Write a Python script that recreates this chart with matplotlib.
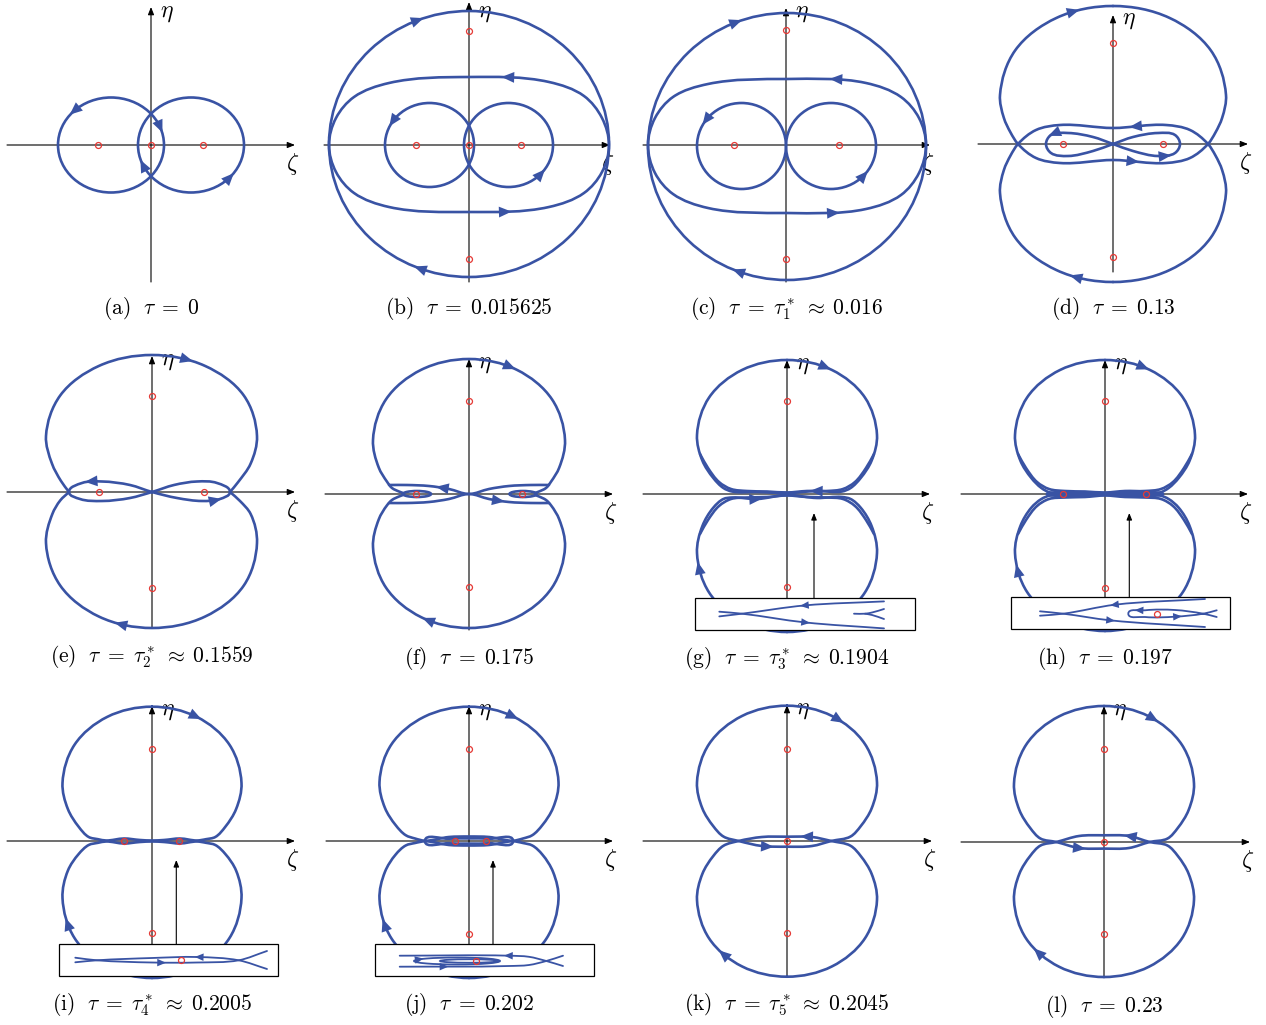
import numpy as np
import matplotlib
matplotlib.use("Agg")
import matplotlib.pyplot as plt
from matplotlib.path import Path
from matplotlib.patches import PathPatch, Ellipse, Rectangle

plt.rcParams['mathtext.fontset'] = 'cm'

# --- captions ---
captions = [
    r'$\mathrm{(a)}\ \ \tau \;=\; 0$',
    r'$\mathrm{(b)}\ \ \tau \;=\; 0.015625$',
    r'$\mathrm{(c)}\ \ \tau \;=\; \tau_1^* \;\approx\; 0.016$',
    r'$\mathrm{(d)}\ \ \tau \;=\; 0.13$',
    r'$\mathrm{(e)}\ \ \tau \;=\; \tau_2^* \;\approx\; 0.1559$',
    r'$\mathrm{(f)}\ \ \tau \;=\; 0.175$',
    r'$\mathrm{(g)}\ \ \tau \;=\; \tau_3^* \;\approx\; 0.1904$',
    r'$\mathrm{(h)}\ \ \tau \;=\; 0.197$',
    r'$\mathrm{(i)}\ \ \tau \;=\; \tau_4^* \;\approx\; 0.2005$',
    r'$\mathrm{(j)}\ \ \tau \;=\; 0.202$',
    r'$\mathrm{(k)}\ \ \tau \;=\; \tau_5^* \;\approx\; 0.2045$',
    r'$\mathrm{(l)}\ \ \tau \;=\; 0.23$',
]

# --- curve data (zeta, eta) ---
# ovals: (centre_x, centre_y, width, height); loops: closed; strokes: open
# arrows: (x, y, dir_x, dir_y) -- placed on the nearest drawn curve
a_dots = [(-53, 0), (0, 0), (52, 0)]
a_ovals = [(-40, 0, 106, 95), (40, 0, 106, 95)]
a_arrows = [(-76, 32, -1, -0.9), (7, 17, 0.35, -1), (-8, -18, -0.35, 1), (81, -32, 1, 1)]

b_dots = [(0, 114), (0, -114), (-53, 0), (0, 0), (52, 0)]
b_ovals = [(0, 1, 280, 266), (-39.5, 0, 89, 84), (39.5, 0, 89, 84)]
b_loops = [[(-140, 0), (-133, 27), (-115, 48), (-80, 62), (0, 68), (80, 63), (115, 49), (133, 27),
            (140, 0), (133, -27), (115, -48), (80, -62), (0, -67), (-80, -62), (-115, -48), (-133, -27)]]
b_arrows = [(-50, 125, 1, 0.2), (-53, -122, -1, 0.25), (35, 66, -1, 0.03), (40, -64, 1, 0.05),
            (-75, 22, -0.7, -0.75), (74, -28, 0.6, 0.8)]

c_dots = [(0, 115), (0, -114), (-52, 0), (53, 0)]
c_ovals = [(1, -1.5, 278, 267), (-44.5, -1, 89, 86), (45, -1, 90, 86)]
c_loops = [[(-138, 0), (-131, 27), (-113, 48), (-78, 61), (1, 66), (80, 62), (115, 48), (133, 27),
            (140, 0), (133, -28), (115, -50), (80, -64), (1, -68), (-78, -63), (-113, -49), (-131, -28)]]
c_arrows = [(-46, 125, 1, 0.2), (-46, -128, -1, 0.25), (48, 65, -1, 0.05), (48, -66, 1, 0.08),
            (-79, 22, -0.6, -0.8), (78, -28, 0.6, 0.8)]

d_dots = [(0, 101), (0, -113), (-50, 0), (50, 0)]
d_loops = [
    [(0, 138), (56.5, 126.1), (97.9, 93.5), (113, 49), (109.1, 26), (102.4, 11.4), (95, 0),
     (77, -14), (53, -19), (0, -16), (-53, -19), (-77, -14), (-95, 0), (-102.4, 11.4),
     (-109.1, 26), (-113, 49), (-97.9, 93.5), (-56.5, 126.1)],
    [(0, -138), (56.5, -126.1), (97.9, -93.5), (113, -49), (109.1, -26), (102.4, -11.4), (95, 0),
     (77, 14), (53, 19), (0, 16), (-53, 19), (-77, 14), (-95, 0), (-102.4, -11.4), (-109.1, -26),
     (-113, -49), (-97.9, -93.5), (-56.5, -126.1)],
    [(0, 0), (20, -7), (45, -12), (62, -9), (67, 0), (62, 9), (45, 11), (20, 7), (0, 0),
     (-20, -7), (-45, -12), (-62, -9), (-67, 0), (-62, 9), (-45, 11), (-20, 7)],
]
d_arrows = [(-38, 132, 1, 0.15), (-38, -130, -1, 0.15), (22, 18, -1, -0.05), (22, -18, 1, 0.05),
            (-60, 10, -1, -0.05), (53, -11, 1, 0.1)]

e_dots = [(0, 96), (0, -96), (-53, 0), (52, 0)]
e_strokes = [
    [(-83, 0), (-91, 11), (-100, 28.3), (-106, 56), (-91.8, 96.5), (-53, 126.1), (0, 137),
     (53, 126.1), (91.8, 96.5), (105, 56), (98.6, 28.3), (85.8, 9.5), (78, 0)],
    [(-83, 0), (-91.8, -8.5), (-99.6, -21.9), (-106, -51), (-91.8, -93.5), (-53, -124.6),
     (0, -136), (53, -124.6), (91.8, -93.5), (105, -51), (98.6, -21.9), (88, -9), (78, 0)],
]
e_loops = [[(0, 0), (25, -6), (50, -9), (68, -7), (78, 0), (65, 9), (45, 10.5), (22, 7), (0, 0),
            (-22, -6), (-50, -9), (-72, -7), (-83, 0), (-70, 9), (-50, 10.5), (-22, 7)]]
e_arrows = [(36, 131, 1, -0.15), (-34, -133, -1, 0.15), (-62, 9, -1, -0.25), (65, -8, 1, 0.25)]

f_dots = [(0, 93), (0, -93), (-53, 0), (53, 0)]
f_ovals = [(-52, 0, 28, 6), (54, 0, 27, 6)]
f_strokes = [
    [(-66, 1), (-70, 2.5), (-77, 6), (-82, 12.3), (-90.2, 26.3), (-96, 54), (-83.1, 94.5),
     (-48, 124.1), (0, 135), (48, 124.1), (83.1, 94.5), (96, 54), (90.2, 26.3), (82, 12.3),
     (77, 6), (70, 2.5), (66, 1)],
    [(-66, -1), (-70, -2.5), (-77, -6), (-82, -11.3), (-90.2, -25.3), (-96, -53), (-83.1, -93.5),
     (-48, -123.1), (0, -134), (48, -123.1), (83.1, -93.5), (96, -53), (90.2, -25.3), (82, -11.3),
     (77, -6), (70, -2.5), (66, -1)],
    [(-80, 9), (-62, 9), (-40, 8), (-20, 5), (0, 0), (20, 5), (40, 8), (62, 9), (80, 9)],
    [(-80, -9), (-62, -9), (-40, -8), (-20, -5), (0, 0), (20, -5), (40, -8), (62, -9), (80, -9)],
]
f_arrows = [(41, 128, 1, -0.3), (-43, -127, -1, 0.3), (-28, 8, -1, 0.2), (30, -9, 1, -0.2)]

g_dots = [(0, 93), (0, -93)]
g_loops = [
    [(0, 134), (45, 124), (77.9, 96.5), (90, 59), (84.6, 33.3), (73.7, 16), (63.6, 6), (55, 2.5),
     (30, 3), (0, 1), (-30, 2), (-55, 2.5), (-63.6, 6), (-73.7, 16), (-84.6, 33.3), (-90, 59),
     (-77.9, 96.5), (-45, 124)],
    [(0, -138), (45, -127.4), (77.9, -98.5), (90, -59), (84.6, -32), (73.7, -13.7), (63.6, -5),
     (55, -3), (30, -4), (0, -1), (-30, -5), (-55, -3.5), (-63.6, -5), (-73.7, -13.7), (-84.6, -32),
     (-90, -59), (-77.9, -98.5), (-45, -127.4)],
]
g_strokes = [
    [(-87, 40), (-79, 26), (-68, 12), (-56, 5), (-40, 3), (-20, 2.5), (0, 1.5), (20, 3), (40, 3),
     (56, 5), (68, 12), (79, 26), (87, 40)],
    [(-87, -40), (-79, -26), (-68, -12), (-56, -5), (-40, -3.5), (-20, -3), (0, -1.5), (20, -3),
     (40, -3.5), (56, -5), (68, -12), (79, -26), (87, -40)],
]
g_arrows = [(38, 126, 1, -0.2), (-87, -73, -0.12, 1), (28, 5, -1, 0), (-30, -5, 1, 0)]
g_inset_strokes = [
    [(-67.7, -117.7), (-45, -119.7), (18, -128.4), (97, -134.4)],
    [(-67.7, -122.4), (-45, -119.7), (18, -111.4), (97, -107.4)],
    [(97, -115), (85, -118.5), (78, -119.7), (67, -119.7)],
    [(97, -125), (85, -121), (78, -119.7)],
]
g_inset_arrows = [(18, -111.4, -1, -0.05), (18, -128.4, 1, -0.08)]

h_dots = [(0, 92.7), (0, -94), (-41.7, 0), (41, 0)]
h_ovals = [(-41, 0, 34, 4), (41, 0, 34, 4)]
h_loops = [
    [(0, 134), (45, 124), (77.9, 96.5), (90, 59), (84.6, 33.3), (73.7, 16), (63.6, 6), (55, 1.5),
     (30, 1), (0, 0.5), (-30, 1), (-55, 1.5), (-63.6, 6), (-73.7, 16), (-84.6, 33.3), (-90, 59),
     (-77.9, 96.5), (-45, 124)],
    [(0, -137), (45, -126.5), (77.9, -98), (90, -59), (84.6, -32), (73.7, -13.7), (63.6, -5),
     (55, -1.5), (30, -1), (0, -0.5), (-30, -1), (-55, -1.5), (-63.6, -5), (-73.7, -13.7),
     (-84.6, -32), (-90, -59), (-77.9, -98), (-45, -126.5)],
]
h_strokes = g_strokes
h_arrows = [(37.7, 126, 1, -0.2), (-86.7, -74, -0.12, 1)]
h_inset_strokes = [
    [(-65, -117.3), (-41.7, -119.7), (5, -126.3), (100, -133)],
    [(-65, -121.7), (-41.7, -119.7), (10, -110.7), (100, -105)],
    [(111.7, -123), (98.3, -119.7), (70, -116), (40, -116.3), (23.3, -119.7), (40, -123),
     (70, -122.7), (98.3, -119.7), (111.7, -116.3)],
]
h_inset_dots = [(51.7, -119.7)]
h_inset_arrows = [(10, -110.7, -1, -0.07), (5, -126.3, 1, -0.08), (35, -116.2, -1, 0),
                  (71.7, -122.5, 1, 0.05)]

i_dots = [(0, 92), (0, -92.3), (-27.7, 0), (27.3, 0)]
i_loops = [
    [(0, 134.3), (44.8, 124.1), (77.5, 96.2), (89.5, 58), (84.1, 31.9), (73.3, 14.2), (63.3, 4),
     (54, 1.8), (45, 0.5), (28, 2.5), (12, 1), (0, 0.5), (-12, 1), (-28, 2.5), (-46, 0.5),
     (-54, 1.8), (-63.3, 4), (-73.3, 14.2), (-84.1, 31.9), (-89.5, 58), (-77.5, 96.2),
     (-44.8, 124.1)],
    [(0, -137), (44.8, -126.3), (77.5, -97), (89.5, -57), (84.1, -29.6), (73.3, -13), (63.3, -4),
     (54, -1.8), (45, -0.5), (28, -2.5), (12, -1), (0, -0.5), (-12, -1), (-28, -2.5), (-46, -0.5),
     (-54, -1.8), (-63.3, -4), (-73.3, -13), (-84.1, -29.6), (-89.5, -57), (-77.5, -97),
     (-44.8, -126.3)],
]
i_arrows = [(45, 124.3, 1, -0.35), (-85, -80.7, -0.2, 1)]
i_inset_strokes = [
    [(-76.7, -116.7), (-55, -119.3), (0, -121.5), (45, -121.5), (86.7, -119.3), (115, -110)],
    [(-76.7, -121.3), (-55, -119.3), (0, -117), (45, -116), (86.7, -119.3), (115, -128)],
]
i_inset_dots = [(29.3, -119.3)]
i_inset_arrows = [(48, -116.3, -1, 0), (8, -121.6, 1, 0)]

j_dots = [(0, 92), (0, -93), (-14.3, 0), (17.3, 0)]
j_loops = [
    [(0, 134.3), (44.8, 124.2), (77.5, 96.7), (89.5, 59), (84.1, 33.2), (73.3, 15.8), (63.3, 5.8),
     (54, 2.5), (44, 0.3), (20, 4), (0, 4.5), (-20, 4), (-44, 0.3), (-54, 2.5), (-63.3, 5.8),
     (-73.3, 15.8), (-84.1, 33.2), (-89.5, 59), (-77.5, 96.7), (-44.8, 124.2)],
    [(0, -137), (44.8, -126.4), (77.5, -97.5), (89.5, -58), (84.1, -31), (73.3, -13.5),
     (63.3, -4.5), (54, -2), (44, -0.3), (20, -4), (0, -4.5), (-20, -4), (-44, -0.3), (-54, -2),
     (-63.3, -4.5), (-73.3, -13.5), (-84.1, -31), (-89.5, -58), (-77.5, -97.5), (-44.8, -126.4)],
    [(-44, 0), (-20, 2.3), (0, 2.6), (20, 2.3), (44, 0), (20, -2.3), (0, -2.6), (-20, -2.3)],
]
j_arrows = [(45.7, 124.3, 1, -0.35), (-84.3, -82.3, -0.2, 1)]
j_inset_strokes = [
    [(-69.3, -114.7), (40, -114.7), (60, -115.8), (77.3, -120), (94, -125)],
    [(-69.3, -125.7), (40, -125), (60, -124), (77.3, -120), (94, -114.7)],
]
j_inset_ovals = [(-12, -120, 86, 7), (0, -120, 58, 3.5)]
j_inset_dots = [(7.3, -120)]
j_inset_arrows = [(39, -114.7, -1, 0), (-27.7, -125.5, 1, 0), (-50, -120, 1, 0)]

k_dots = [(0, 92), (0, -92.3), (0, 0)]
k_loops = [
    [(0, 135.3), (45, 125), (77.9, 97), (90, 58.7), (84.6, 32.5), (73.7, 14.8), (63.6, 4.5),
     (44.3, 0), (25, -5), (0, -5.7), (-25, -5), (-48.3, 0), (-63.6, 4.5), (-73.7, 14.8),
     (-84.6, 32.5), (-90, 58.7), (-77.9, 97), (-45, 125)],
    [(0, -135.7), (45, -125.4), (77.9, -97.4), (90, -59), (84.6, -32.8), (73.7, -15), (63.6, -4.8),
     (44.3, 0), (25, 4), (0, 4.3), (-25, 4), (-48.3, 0), (-63.6, -4.8), (-73.7, -15),
     (-84.6, -32.8), (-90, -59), (-77.9, -97.4), (-45, -125.4)],
]
k_arrows = [(51.7, 119.3, 1, -0.6), (-63.3, -110.7, -1, 0.6), (18.3, 4.3, -1, 0), (-18.3, -4.7, 1, 0)]

l_dots = [(0, 92.7), (0, -91.6), (0, 0)]
l_loops = [
    [(0, 136), (45, 125.6), (77.9, 97.2), (90, 58.4), (84.6, 31.9), (73.7, 13.9), (63.6, 3.5),
     (45.7, 0), (25, -6), (0, -6.6), (-25, -6), (-47.6, 0), (-63.6, 3.5), (-73.7, 13.9),
     (-84.6, 31.9), (-90, 58.4), (-77.9, 97.2), (-45, 125.6)],
    [(0, -135), (45, -124.7), (77.9, -96.5), (90, -58), (84.6, -31.7), (73.7, -13.8), (63.6, -3.6),
     (45.7, 0), (25, 6), (0, 6.7), (-25, 6), (-47.6, 0), (-63.6, -3.6), (-73.7, -13.8),
     (-84.6, -31.7), (-90, -58), (-77.9, -96.5), (-45, -124.7)],
]
l_arrows = [(49, 123.4, 1, -0.55), (-66, -110, -1, 0.6), (25.7, 6, -1, 0), (-22.6, -5, 1, 0)]

BLUE = '#3953a4'
RED = '#e53935'
LW = 1.9


def unit(v):
    n = np.hypot(*v)
    return v / n if n > 0 else v


def smooth_path(points, closed):
    # smooth curve through the read points, drawn by matplotlib as cubic Beziers
    P = np.asarray(points, float)
    n = len(P)
    T = np.zeros_like(P)
    for i in range(n):
        if closed or 0 < i < n - 1:
            T[i] = unit(unit(P[i] - P[(i - 1) % n]) + unit(P[(i + 1) % n] - P[i]))
        elif i == 0:
            T[i] = unit(P[1] - P[0])
        else:
            T[i] = unit(P[-1] - P[-2])
    verts = [P[0]]
    codes = [Path.MOVETO]
    nseg = n if closed else n - 1
    for i in range(nseg):
        j = (i + 1) % n
        L = np.hypot(*(P[j] - P[i])) / 3
        verts += [P[i] + T[i] * L, P[j] - T[j] * L, P[j]]
        codes += [Path.CURVE4] * 3
    return Path(verts, codes)


def sample(path):
    pts = [bez(np.linspace(0, 1, 16)) for bez, code in path.iter_bezier() if code != Path.MOVETO]
    return np.vstack(pts)


def add_curve(ax, path, track, lw=LW, z=2):
    ax.add_patch(PathPatch(path, fill=False, ec=BLUE, lw=lw, capstyle='round',
                           joinstyle='round', zorder=z))
    track.append(sample(path))


def add_oval(ax, oval, track, lw=LW, z=2):
    cx, cy, w, h = oval
    e = Ellipse((cx, cy), w, h, fill=False, ec=BLUE, lw=lw, zorder=z)
    ax.add_patch(e)
    track.append(sample(e.get_patch_transform().transform_path(e.get_path())))


def head(ax, arrow, track, scale=13, z=4):
    x, y, dx, dy = arrow
    best = None
    for poly in track:
        d = np.hypot(poly[:, 0] - x, poly[:, 1] - y)
        i = int(np.argmin(d))
        if best is None or d[i] < best[0]:
            best = (d[i], poly, i)
    _, poly, i = best
    p = poly[i]
    t = unit(poly[min(i + 2, len(poly) - 1)] - poly[max(i - 2, 0)])
    if t[0] * dx + t[1] * dy < 0:
        t = -t
    ax.annotate('', xy=tuple(p + 5 * t), xytext=tuple(p - 3 * t),
                arrowprops=dict(arrowstyle='-|>,head_length=0.7,head_width=0.3', fc=BLUE,
                                ec='none', lw=0, mutation_scale=scale, shrinkA=0, shrinkB=0),
                zorder=z)


def dots(ax, pts, z=5):
    for x, y in pts:
        ax.plot(x, y, 'o', mfc='none', mec=RED, ms=4.3, mew=0.9, zorder=z)


panels = [
    dict(org=(151, 145), ext=(-144, 144, -137, 138), dots=a_dots, ovals=a_ovals, arrows=a_arrows),
    dict(org=(469, 145), ext=(-145, 141, -137, 143), dots=b_dots, ovals=b_ovals, loops=b_loops,
         arrows=b_arrows),
    dict(org=(786, 145), ext=(-143, 144, -137, 137), dots=c_dots, ovals=c_ovals, loops=c_loops,
         arrows=c_arrows),
    dict(org=(1113, 144), ext=(-135, 135, -128, 129), dots=d_dots, loops=d_loops, arrows=d_arrows),
    dict(org=(152, 492), ext=(-145, 143, -136, 136), dots=e_dots, strokes=e_strokes, loops=e_loops,
         arrows=e_arrows),
    dict(org=(469, 494), ext=(-144, 144, -136, 135), dots=f_dots, ovals=f_ovals, strokes=f_strokes,
         arrows=f_arrows),
    dict(org=(787, 494), ext=(-144, 143, -136, 134), dots=g_dots, loops=g_loops, strokes=g_strokes,
         arrows=g_arrows,
         inset=dict(box=(-92, -136, 220, 32), px=27, strokes=g_inset_strokes, arrows=g_inset_arrows)),
    dict(org=(1105, 494), ext=(-144, 143, -136, 134), dots=h_dots, ovals=h_ovals, loops=h_loops,
         strokes=h_strokes, arrows=h_arrows,
         inset=dict(box=(-94, -135, 219, 31.6), px=24.3, strokes=h_inset_strokes,
                    arrows=h_inset_arrows, dots=h_inset_dots)),
    dict(org=(152, 841), ext=(-145, 143, -136, 135), dots=i_dots, loops=i_loops, arrows=i_arrows,
         inset=dict(box=(-93.3, -135, 219.3, 31.7), px=24.3, strokes=i_inset_strokes,
                    arrows=i_inset_arrows, dots=i_inset_dots)),
    dict(org=(469, 841), ext=(-143, 144, -136, 135), dots=j_dots, loops=j_loops, arrows=j_arrows,
         inset=dict(box=(-94.3, -135, 219.3, 31.7), px=24, strokes=j_inset_strokes,
                    arrows=j_inset_arrows, dots=j_inset_dots, ovals=j_inset_ovals)),
    dict(org=(787, 841), ext=(-144, 145, -136, 136), dots=k_dots, loops=k_loops, arrows=k_arrows),
    dict(org=(1104, 842), ext=(-143, 146, -135, 136), dots=l_dots, loops=l_loops, arrows=l_arrows),
]

W, H = 1266, 1025
fig = plt.figure(figsize=(W / 100, H / 100), dpi=100)

PW, PH, BELOW = 320, 350, 185
for p, cap in zip(panels, captions):
    ox, oy = p['org']
    ax = fig.add_axes([(ox - PW / 2) / W, (H - oy - BELOW) / H, PW / W, PH / H])
    ax.set_xlim(-PW / 2, PW / 2)
    ax.set_ylim(-BELOW, PH - BELOW)
    ax.axis('off')

    # coordinate axes with small heads
    hl, hr, vb, vt = p['ext']
    axis_arrow = dict(arrowstyle='-|>,head_length=0.5,head_width=0.2', color='black', lw=0.8,
                      mutation_scale=9, shrinkA=0, shrinkB=0)
    ax.annotate('', xy=(hr, 0), xytext=(hl, 0), arrowprops=axis_arrow, zorder=1)
    ax.annotate('', xy=(0, vt), xytext=(0, vb), arrowprops=axis_arrow, zorder=1)
    ax.text(16, min(vt - 4, 133), r'$\eta$', fontsize=17, ha='center', va='center', zorder=1)
    ax.text(hr - 2, -19, r'$\zeta$', fontsize=17, ha='center', va='center', zorder=1)

    track = []
    for ov in p.get('ovals', []):
        add_oval(ax, ov, track)
    for pts in p.get('loops', []):
        add_curve(ax, smooth_path(pts, True), track)
    for pts in p.get('strokes', []):
        add_curve(ax, smooth_path(pts, False), track)
    dots(ax, p['dots'])
    for a in p['arrows']:
        head(ax, a, track)

    ins = p.get('inset')
    if ins:
        bx, by, bw, bh = ins['box']
        ax.add_patch(Rectangle((bx, by), bw, bh, fc='white', ec='black', lw=0.9, zorder=6))
        ax.annotate('', xy=(ins['px'], -19), xytext=(ins['px'], by + bh),
                    arrowprops=dict(arrowstyle='-|>,head_length=0.5,head_width=0.2', color='black',
                                    lw=0.8, mutation_scale=8, shrinkA=0, shrinkB=0), zorder=6)
        itrack = []
        for ov in ins.get('ovals', []):
            add_oval(ax, ov, itrack, lw=1.3, z=7)
        for pts in ins['strokes']:
            add_curve(ax, smooth_path(pts, False), itrack, lw=1.3, z=7)
        dots(ax, ins.get('dots', []), z=8)
        for a in ins['arrows']:
            head(ax, a, itrack, scale=9, z=8)

    ax.text(0, -164, cap, fontsize=15.5, ha='center', va='center')

fig.savefig('out.png', dpi=100)
